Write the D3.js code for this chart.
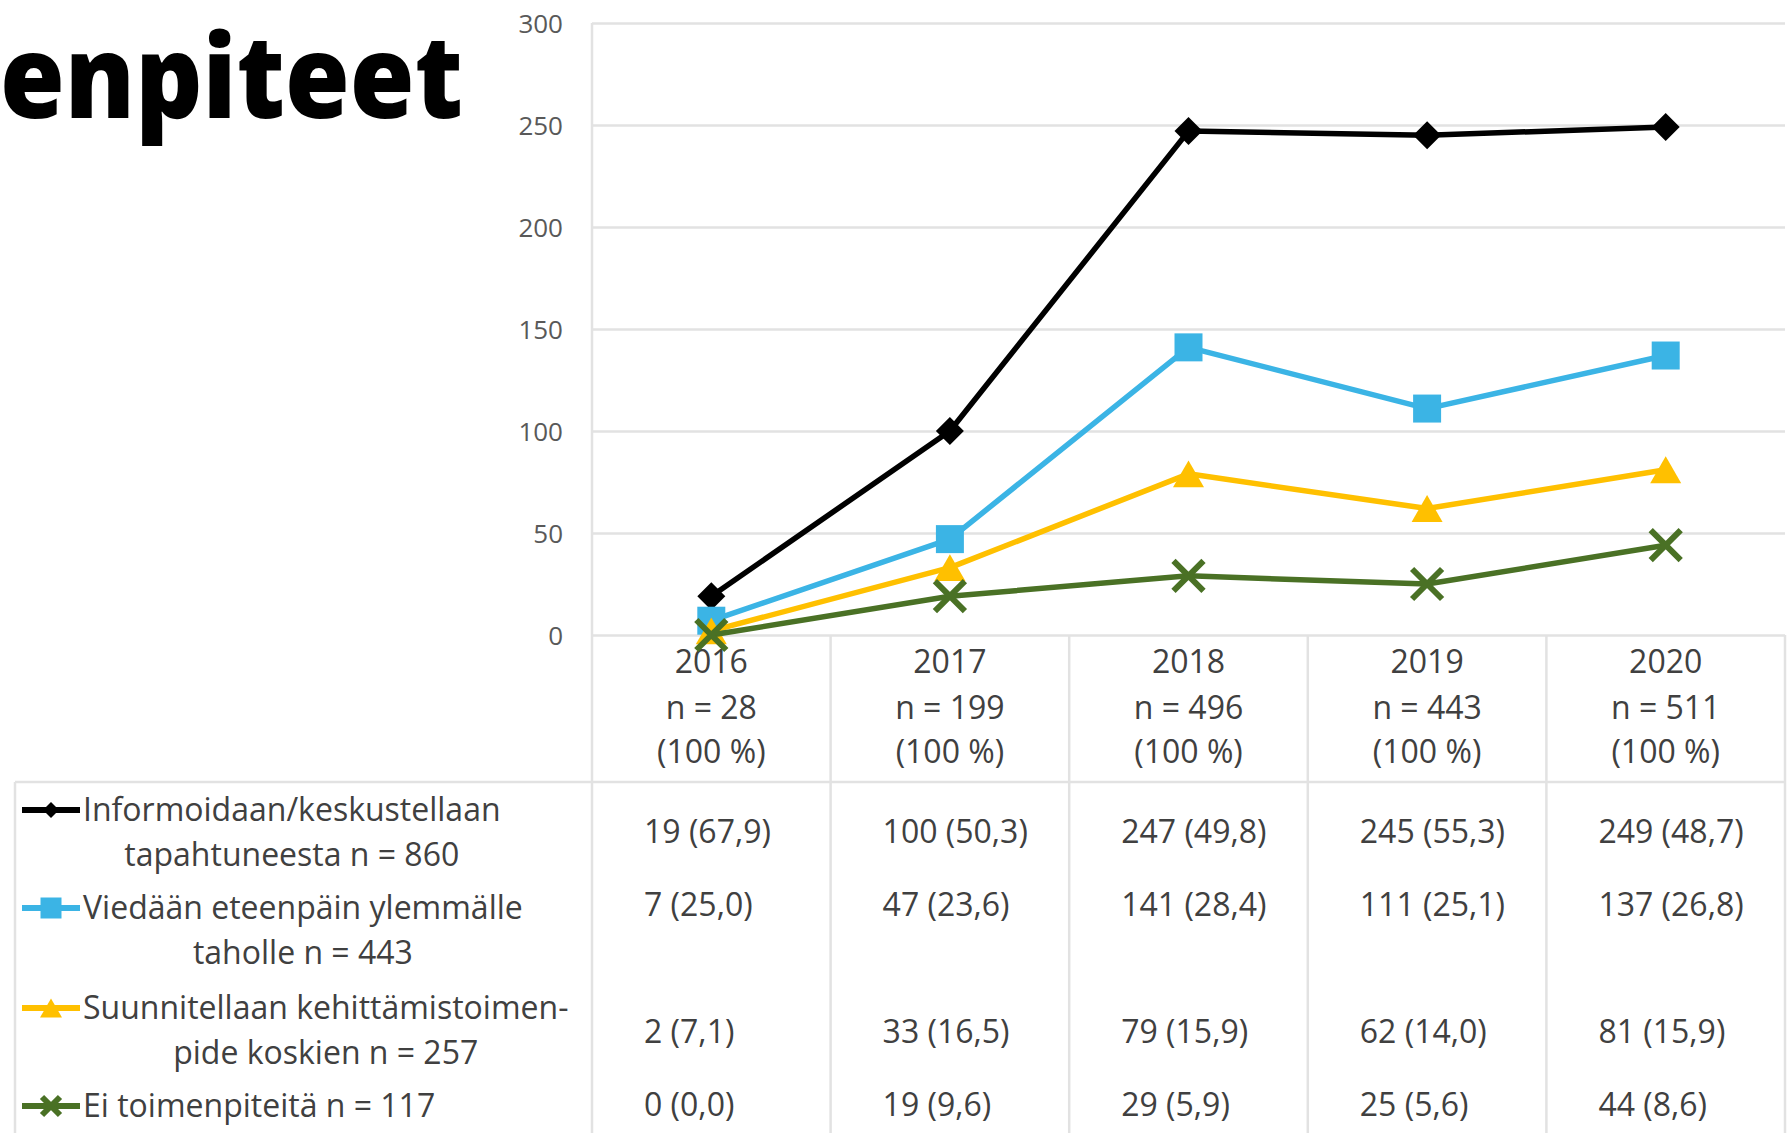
<!DOCTYPE html>
<html>
<head>
<meta charset="utf-8">
<script src="https://cdn.jsdelivr.net/npm/d3@7"></script>
<style>
  body { margin: 0; background: #fff; }
  svg text { font-family: "Open Sans", "Noto Sans", sans-serif; }
</style>
</head>
<body>
<div id="chart"></div>
<script>
// data
var years = ["2016", "2017", "2018", "2019", "2020"];
var totals = [28, 199, 496, 443, 511];

var informoidaan = [19, 100, 247, 245, 249];
var viedaan = [7, 47, 141, 111, 137];
var suunnitellaan = [2, 33, 79, 62, 81];
var eiToimenpiteita = [0, 19, 29, 25, 44];

var informoidaanPct = [67.9, 50.3, 49.8, 55.3, 48.7];
var viedaanPct = [25.0, 23.6, 28.4, 25.1, 26.8];
var suunnitellaanPct = [7.1, 16.5, 15.9, 14.0, 15.9];
var eiToimenpiteitaPct = [0.0, 9.6, 5.9, 5.6, 8.6];

var legendLabels = [
  ["Informoidaan/keskustellaan", "tapahtuneesta n = 860"],
  ["Viedään eteenpäin ylemmälle", "taholle n = 443"],
  ["Suunnitellaan kehittämistoimen-", "pide koskien n = 257"],
  ["Ei toimenpiteitä n = 117"]
];

var yTicks = [0, 50, 100, 150, 200, 250, 300];

var series = [
  { name: legendLabels[0], values: informoidaan, pct: informoidaanPct, color: "#000000", marker: "diamond" },
  { name: legendLabels[1], values: viedaan, pct: viedaanPct, color: "#3bb4e5", marker: "square" },
  { name: legendLabels[2], values: suunnitellaan, pct: suunnitellaanPct, color: "#ffc000", marker: "triangle" },
  { name: legendLabels[3], values: eiToimenpiteita, pct: eiToimenpiteitaPct, color: "#4a7125", marker: "x" }
];

// layout
var width = 1791, height = 1133;
var plotLeft = 592, plotRight = 1785, plotTop = 23, plotBottom = 635;
var tableLeft = 15, headerBottom = 782;
var rowLineY = [[810, 855], [908, 953], [1008, 1053], [1106]];
var rowValueY = [832, 905, 1032, 1105];
var textColor = "#404040";
var gridColor = "#e2e2e2";

var svg = d3.select("#chart").append("svg")
  .attr("width", width)
  .attr("height", height);

var x = d3.scaleBand().domain(years).range([plotLeft, plotRight]);
var y = d3.scaleLinear().domain([0, 300]).range([plotBottom, plotTop]);

// title fragment (cropped in the original)
svg.append("text")
  .attr("x", 0)
  .attr("y", 118)
  .attr("textLength", 463)
  .attr("lengthAdjust", "spacingAndGlyphs")
  .style("font-size", "116px")
  .style("font-weight", 800)
  .style("fill", "#000")
  .text("enpiteet");

// gridlines
svg.append("g")
  .attr("transform", "translate(" + plotLeft + ",0)")
  .call(d3.axisLeft(y).tickValues(yTicks).tickSize(-(plotRight - plotLeft)).tickFormat(""))
  .call(function(g) {
    g.select(".domain").remove();
    g.selectAll(".tick line").attr("stroke", gridColor).attr("stroke-width", 2.5);
  });

// y labels
svg.append("g")
  .attr("transform", "translate(" + 563 + ",0)")
  .call(d3.axisLeft(y).tickValues(yTicks).tickSize(0).tickPadding(0))
  .call(function(g) {
    g.select(".domain").remove();
    g.selectAll(".tick text")
      .style("font-size", "26px")
      .style("fill", "#595959")
      .attr("dy", "0.35em");
  });

// table lines
var tableG = svg.append("g").attr("stroke", gridColor).attr("stroke-width", 2.5);
tableG.append("line").attr("x1", plotLeft).attr("x2", plotLeft).attr("y1", plotTop).attr("y2", height);
tableG.selectAll(".vline")
  .data(years)
  .enter()
  .append("line")
  .attr("x1", function(d) { return x(d) + x.bandwidth(); })
  .attr("x2", function(d) { return x(d) + x.bandwidth(); })
  .attr("y1", plotBottom)
  .attr("y2", height);
tableG.append("line").attr("x1", tableLeft).attr("x2", plotRight).attr("y1", headerBottom).attr("y2", headerBottom);
tableG.append("line").attr("x1", tableLeft).attr("x2", tableLeft).attr("y1", headerBottom).attr("y2", height);

// header cells
var header = svg.selectAll(".header")
  .data(years)
  .enter()
  .append("text")
  .attr("class", "header")
  .attr("text-anchor", "middle")
  .style("font-size", "32px")
  .style("fill", textColor);
[["year", 662], ["n", 708], ["pct", 752]].forEach(function(line) {
  header.append("tspan")
    .attr("x", function(d) { return x(d) + x.bandwidth() / 2; })
    .attr("y", line[1])
    .attr("dy", "0.35em")
    .text(function(d, i) {
      if (line[0] == "year") return d;
      if (line[0] == "n") return "n = " + totals[i];
      return "(100 %)";
    });
});

function markerPath(type, s) {
  if (type == "diamond") return d3.symbol().type(d3.symbolSquare).size(s * s / 2)();
  if (type == "square") return d3.symbol().type(d3.symbolSquare).size(s * s)();
  if (type == "triangle") return d3.symbol().type(d3.symbolTriangle).size(s * s * 0.433)();
  var r = s / 2;
  return "M" + (-r) + "," + (-r) + "L" + r + "," + r + "M" + (-r) + "," + r + "L" + r + "," + (-r);
}

function markerTransform(type, s, cx, cy) {
  if (type == "diamond") return "translate(" + cx + "," + cy + ") rotate(45)";
  if (type == "triangle") return "translate(" + cx + "," + (cy + s * 0.144) + ")";
  return "translate(" + cx + "," + cy + ")";
}

function styleMarker(sel) {
  sel.attr("fill", function(d) { return d.marker == "x" ? "none" : d.color; })
    .attr("stroke", function(d) { return d.marker == "x" ? d.color : "none"; })
    .attr("stroke-width", 6);
}

var markerSize = { diamond: 28, square: 28, triangle: 31, x: 30 };

var line = d3.line()
  .x(function(d, i) { return x(years[i]) + x.bandwidth() / 2; })
  .y(function(d) { return y(d); });

var seriesG = svg.selectAll(".series")
  .data(series)
  .enter()
  .append("g")
  .attr("class", "series");

seriesG.append("path")
  .attr("d", function(d) { return line(d.values); })
  .attr("fill", "none")
  .attr("stroke", function(d) { return d.color; })
  .attr("stroke-width", 5.5)
  .attr("stroke-linejoin", "round");

seriesG.each(function(s) {
  d3.select(this).selectAll(".pt")
    .data(s.values.map(function(v, i) { return { v: v, i: i, color: s.color, marker: s.marker }; }))
    .enter()
    .append("path")
    .attr("class", "pt")
    .attr("d", function(d) { return markerPath(d.marker, markerSize[d.marker]); })
    .attr("transform", function(d) {
      return markerTransform(d.marker, markerSize[d.marker], x(years[d.i]) + x.bandwidth() / 2, y(d.v));
    })
    .call(styleMarker);
});

// legend keys and labels in the table
var legendSize = { diamond: 16, square: 21, triangle: 22, x: 18 };
var fmt = d3.format(".1f");

series.forEach(function(s, k) {
  var ly = rowLineY[k];
  var g = svg.append("g");
  g.append("line")
    .attr("x1", 22).attr("x2", 80)
    .attr("y1", ly[0]).attr("y2", ly[0])
    .attr("stroke", s.color)
    .attr("stroke-width", 6);
  g.append("path")
    .datum(s)
    .attr("d", markerPath(s.marker, legendSize[s.marker]))
    .attr("transform", markerTransform(s.marker, legendSize[s.marker], 51, ly[0]))
    .call(styleMarker);

  var first = g.append("text")
    .attr("x", 83)
    .attr("y", ly[0])
    .attr("dy", "0.35em")
    .style("font-size", "32px")
    .style("fill", textColor)
    .text(s.name[0]);
  var mid = 83 + first.node().getComputedTextLength() / 2;
  if (s.name.length > 1) {
    g.append("text")
      .attr("x", mid)
      .attr("y", ly[1])
      .attr("dy", "0.35em")
      .attr("text-anchor", "middle")
      .style("font-size", "32px")
      .style("fill", textColor)
      .text(s.name[1]);
  }

  g.selectAll(".val")
    .data(s.values)
    .enter()
    .append("text")
    .attr("class", "val")
    .attr("x", function(d, i) { return x(years[i]) + 52; })
    .attr("y", rowValueY[k])
    .attr("dy", "0.35em")
    .style("font-size", "32px")
    .style("fill", textColor)
    .text(function(d, i) { return d + " (" + fmt(s.pct[i]).replace(".", ",") + ")"; });
});
</script>
</body>
</html>
